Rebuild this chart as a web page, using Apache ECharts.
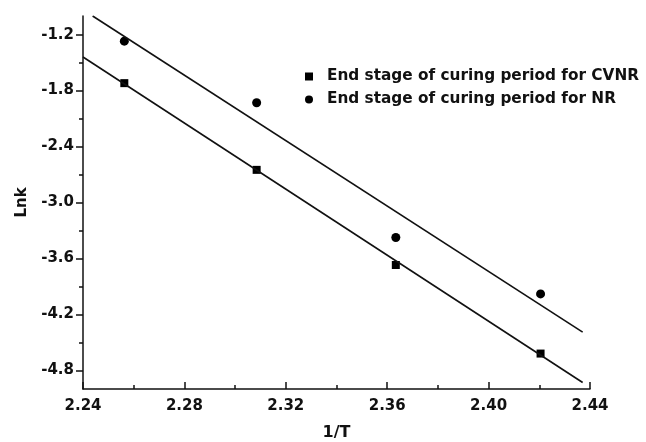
<!DOCTYPE html>
<html>
<head>
<meta charset="utf-8">
<script src="https://cdn.jsdelivr.net/npm/echarts@6/dist/echarts.min.js"></script>
<style>
  html, body { margin: 0; padding: 0; background: #fff; }
  #chart { width: 646px; height: 442px; }
</style>
</head>
<body>
<div id="chart"></div>
<script>
// 1/T positions of the measured points
const invT = [2.2563, 2.3085, 2.3634, 2.4205];
// ln k values
const cvnrLnk = [-1.72, -2.65, -3.67, -4.62];
const nrLnk = [-1.27, -1.93, -3.375, -3.98];
// fitted line end points [1/T, ln k]
const cvnrFit = [[2.24, -1.44], [2.4371, -4.93]];
const nrFit = [[2.2438, -1.0], [2.4371, -4.39]];
// axis tick values
const yMajor = [-4.8, -4.2, -3.6, -3.0, -2.4, -1.8, -1.2];
const yMinor = [-4.5, -3.9, -3.3, -2.7, -2.1, -1.5];

const cvnrName = 'End stage of curing period for CVNR';
const nrName = 'End stage of curing period for NR';

const ink = '#111';
const font = 'DejaVu Sans';

const chart = echarts.init(document.getElementById('chart'));

chart.setOption({
    animation: false,
    backgroundColor: '#fff',
    grid: { left: 83, right: 56, top: 16, bottom: 53, containLabel: false, outerBoundsMode: 'none' },
    legend: {
        data: [cvnrName, nrName],
        orient: 'vertical',
        left: 300,
        top: 64,
        itemWidth: 8,
        itemHeight: 8,
        itemGap: 8,
        textStyle: {
            fontFamily: font,
            fontWeight: 'bold',
            fontSize: 15.3,
            lineHeight: 15,
            color: ink,
            padding: [0, 0, 0, 9]
        }
    },
    xAxis: {
        type: 'value',
        min: 2.24,
        max: 2.44,
        interval: 0.04,
        name: '1/T',
        nameLocation: 'middle',
        nameGap: 36,
        nameTextStyle: { fontFamily: font, fontWeight: 'bold', fontSize: 16, color: ink },
        splitLine: { show: false },
        axisLine: { lineStyle: { color: ink, width: 1.5 } },
        axisTick: { inside: true, length: 7, lineStyle: { color: ink, width: 1.5 } },
        minorTick: { show: true, splitNumber: 2, length: 4, lineStyle: { color: ink, width: 1.5 } },
        axisLabel: {
            margin: 10,
            fontFamily: font,
            fontWeight: 'bold',
            fontSize: 15,
            color: ink,
            formatter: v => v.toFixed(2)
        }
    },
    yAxis: [{
        type: 'value',
        min: -5.0,
        max: -1.0,
        name: 'Lnk',
        nameLocation: 'middle',
        nameGap: 53,
        nameTextStyle: { fontFamily: font, fontWeight: 'bold', fontSize: 15, color: ink },
        splitLine: { show: false },
        axisLine: { show: true, lineStyle: { color: ink, width: 1.5 } },
        axisTick: { show: true, length: 7, customValues: yMajor, lineStyle: { color: ink, width: 1.5 } },
        axisLabel: {
            margin: 9,
            fontFamily: font,
            fontWeight: 'bold',
            fontSize: 15,
            color: ink,
            customValues: yMajor,
            formatter: v => v.toFixed(1)
        }
    }, {
        // minor ticks only
        type: 'value',
        min: -5.0,
        max: -1.0,
        position: 'left',
        splitLine: { show: false },
        axisLine: { show: false },
        axisTick: { show: true, length: 4, customValues: yMinor, lineStyle: { color: ink, width: 1.5 } },
        axisLabel: { show: false }
    }],
    series: [{
        name: cvnrName,
        type: 'scatter',
        symbol: 'rect',
        symbolSize: 8,
        itemStyle: { color: '#000', opacity: 1 },
        data: invT.map((x, i) => [x, cvnrLnk[i]])
    }, {
        name: nrName,
        type: 'scatter',
        symbol: 'circle',
        symbolSize: 9,
        itemStyle: { color: '#000', opacity: 1 },
        data: invT.map((x, i) => [x, nrLnk[i]])
    }, {
        name: 'CVNR fit',
        type: 'line',
        symbol: 'none',
        lineStyle: { color: ink, width: 1.6 },
        data: cvnrFit
    }, {
        name: 'NR fit',
        type: 'line',
        symbol: 'none',
        lineStyle: { color: ink, width: 1.6 },
        data: nrFit
    }]
});
</script>
</body>
</html>
